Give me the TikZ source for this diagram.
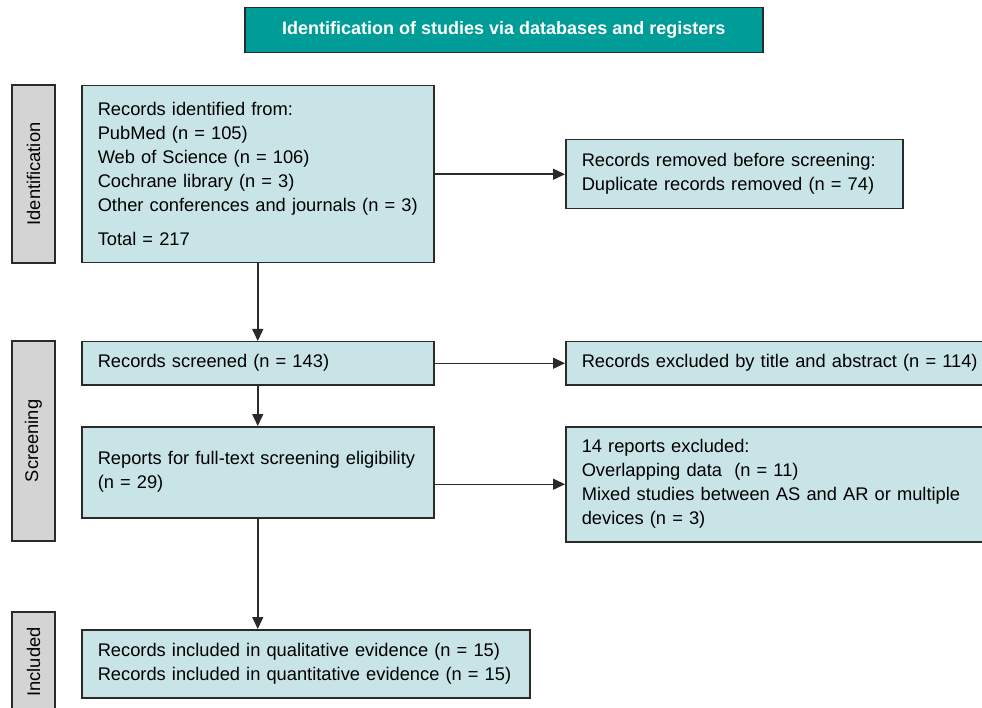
\documentclass[tikz,border=0pt]{standalone}
\usepackage{fontspec}
\setmainfont{Liberation Sans}
\usetikzlibrary{arrows.meta}
\definecolor{teal}{HTML}{009C98}
\definecolor{lblue}{HTML}{C9E4E6}
\definecolor{lgray}{HTML}{D4D4D4}
\definecolor{edge}{HTML}{2A2A2A}
\begin{document}
\begin{tikzpicture}[x=1pt,y=-1pt,
    every node/.style={font=\fontsize{18.3}{24}\selectfont},
    box/.style={draw=edge,line width=1.5pt,fill=lblue,anchor=north west,align=left,inner xsep=16pt,inner ysep=0pt},
    side/.style={draw=edge,line width=1.5pt,fill=lgray,rotate=90,minimum height=43pt,inner sep=0pt},
    arr/.style={-{Triangle[length=12pt,width=11pt]},draw=edge,line width=1.5pt}]
  \useasboundingbox (0,0) rectangle (982,708);
  \clip (0,0) rectangle (982,708);
  \node[draw=edge,line width=1.5pt,fill=teal,text=white,font=\fontsize{18}{24}\selectfont\bfseries,minimum width=518pt,minimum height=45pt,anchor=north west,inner sep=0pt] (head) at (244,7) {Identification of studies via databases and registers};
  \node[side,minimum width=178pt] (sid) at (33.5,174) {Identification};
  \node[side,minimum width=200pt] (sscr) at (33.5,441) {Screening};
  \node[side,minimum width=100pt] (sinc) at (33.5,662) {Included};
  \node[box,text width=320pt,minimum height=177pt] (ident) at (81,85) {Records identified from:\\PubMed (n = 105)\\Web of Science (n = 106)\\Cochrane library (n = 3)\\Other conferences and journals (n = 3)\\[10pt]Total = 217};
  \node[box,text width=305pt,minimum height=69pt] (removed) at (565,139) {Records removed before screening:\\Duplicate records removed (n = 74)};
  \node[box,text width=320pt,minimum height=43pt] (screened) at (81,341) {Records screened (n = 143)};
  \node[box,text width=410pt,minimum height=43pt] (excl) at (565,341) {Records excluded by title and abstract (n = 114)};
  \node[box,text width=320pt,minimum height=91pt] (reports) at (81,426) {Reports for full-text screening eligibility\\(n = 29)};
  \node[box,text width=410pt,minimum height=115pt] (excl2) at (565,426) {14 reports excluded:\\Overlapping data~~(n = 11)\\Mixed studies between AS and AR or multiple\\devices (n = 3)};
  \node[box,text width=416pt,minimum height=68pt] (incl) at (81,629) {Records included in qualitative evidence (n = 15)\\Records included in quantitative evidence (n = 15)};
  \draw[arr] (ident.south) -- (screened.north);
  \draw[arr] (ident.east) -- (removed.west);
  \draw[arr] (screened.east) -- (excl.west);
  \draw[arr] (screened.south) -- (reports.north);
  \draw[arr] (reports.east |- excl2.west) -- (excl2.west);
  \draw[arr] (reports.south) -- (reports.south |- incl.north);
\end{tikzpicture}
\end{document}
